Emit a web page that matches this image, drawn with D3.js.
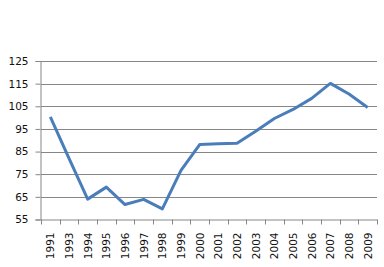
<!DOCTYPE html>
<html>
<head>
<meta charset="utf-8">
<script src="https://cdn.jsdelivr.net/npm/d3@7"></script>
<style>
  body { margin: 0; background: #fff; }
  text { font-family: "DejaVu Sans", Verdana, sans-serif; font-size: 10.5px; fill: #111; }
</style>
</head>
<body>
<script>
var YEARS = ["1991", "1993", "1994", "1995", "1996", "1997", "1998", "1999", "2000",
             "2001", "2002", "2003", "2004", "2005", "2006", "2007", "2008", "2009"];
var VALUES = [100.3, 82, 64, 69.3, 61.6, 63.9, 59.7, 76.7, 88.1,
              88.5, 88.7, 94, 99.6, 103.6, 108.5, 115.1, 110.4, 104.5];
var Y_TICKS = [55, 65, 75, 85, 95, 105, 115, 125];

var W = 384, H = 267;
var plotLeft = 41, plotRight = 377, plotTop = 61, plotBottom = 219.5;

var svg = d3.select("body").append("svg")
  .attr("width", W)
  .attr("height", H);

var x = d3.scaleBand().domain(YEARS).range([plotLeft, plotRight]);
var y = d3.scaleLinear().domain([55, 125]).range([plotBottom, plotTop]);

// gridlines
svg.append("g")
  .selectAll("line")
  .data(Y_TICKS.slice(1))
  .enter().append("line")
  .attr("x1", plotLeft).attr("x2", plotRight)
  .attr("y1", function(d) { return Math.round(y(d)) + 0.5; })
  .attr("y2", function(d) { return Math.round(y(d)) + 0.5; })
  .attr("stroke", "#868686");

var yAxis = svg.append("g")
  .attr("transform", "translate(" + (plotLeft - 0.5) + ",0)")
  .call(d3.axisLeft(y).tickValues(Y_TICKS).tickSize(5).tickPadding(7));

var xAxis = svg.append("g")
  .attr("transform", "translate(0," + plotBottom + ")")
  .call(d3.axisBottom(x).tickSize(0).tickFormat(""));

// category boundary ticks
var bounds = YEARS.map(function(d) { return x(d); }).concat([plotRight]);
svg.append("g")
  .selectAll("line")
  .data(bounds)
  .enter().append("line")
  .attr("x1", function(d) { return Math.round(d) + 0.5; })
  .attr("x2", function(d) { return Math.round(d) + 0.5; })
  .attr("y1", plotBottom).attr("y2", plotBottom + 5)
  .attr("stroke", "#868686");

svg.selectAll(".domain").attr("stroke", "#868686");
yAxis.selectAll(".tick line").attr("stroke", "#868686");
yAxis.selectAll("text").style("font-size", "10.5px");

svg.append("g")
  .selectAll("text")
  .data(YEARS)
  .enter().append("text")
  .attr("transform", function(d) {
    return "translate(" + (x(d) + x.bandwidth() / 2 + 4) + "," + (plotBottom + 13) + ") rotate(-90)";
  })
  .attr("text-anchor", "end")
  .text(function(d) { return d; });

var line = d3.line()
  .x(function(d, i) { return x(YEARS[i]) + x.bandwidth() / 2; })
  .y(function(d) { return y(d); });

svg.append("path")
  .datum(VALUES)
  .attr("d", line)
  .attr("fill", "none")
  .attr("stroke", "#4a7ebb")
  .attr("stroke-width", 3)
  .attr("stroke-linejoin", "round");
</script>
</body>
</html>
